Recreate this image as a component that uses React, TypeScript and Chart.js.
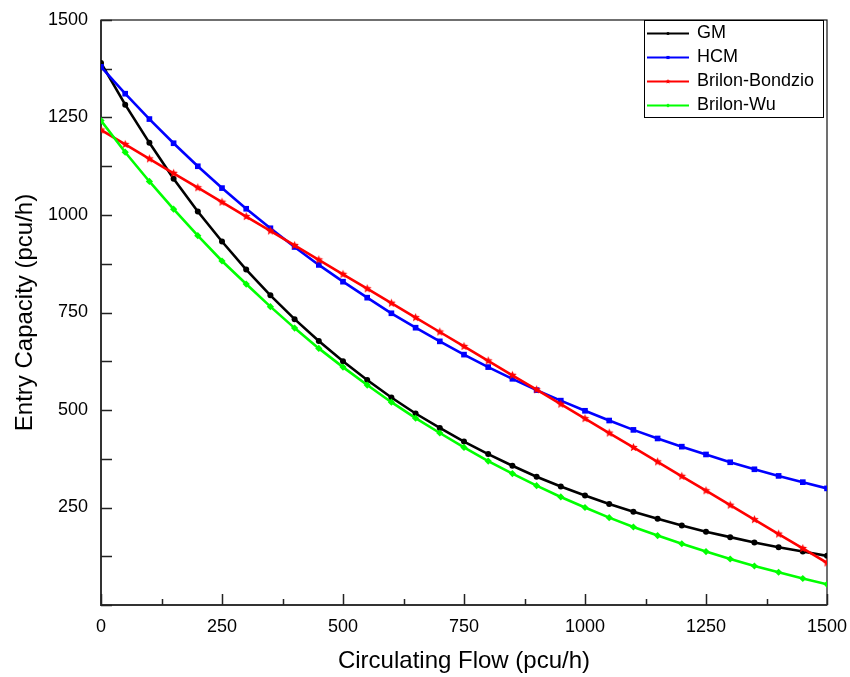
import React, { useEffect, useRef } from 'react';
import { Chart, registerables } from 'chart.js';

Chart.register(...registerables);

const circulatingFlow = [0, 50, 100, 150, 200, 250, 300, 350, 400, 450, 500, 550, 600, 650, 700, 750, 800, 850, 900, 950, 1000, 1050, 1100, 1150, 1200, 1250, 1300, 1350, 1400, 1450, 1500];

const gmCapacity = [1390, 1283, 1185, 1093, 1009, 932, 860, 794, 733, 677, 625, 577, 532, 491, 454, 419, 387, 357, 329, 304, 281, 259, 239, 221, 204, 188, 174, 160, 148, 137, 126];
const hcmCapacity = [1380, 1311, 1246, 1184, 1125, 1069, 1016, 966, 918, 872, 829, 788, 748, 711, 676, 642, 610, 580, 551, 524, 498, 473, 449, 427, 406, 386, 366, 348, 331, 315, 299];
const brilonBondzioCapacity = [1218, 1181, 1144, 1107, 1070, 1033, 996, 959, 922, 885, 848, 811, 774, 737, 700, 663, 626, 589, 552, 515, 478, 441, 404, 367, 330, 293, 256, 219, 182, 145, 108];
const brilonWuCapacity = [1242, 1161, 1086, 1015, 947, 882, 823, 765, 710, 658, 610, 564, 520, 479, 441, 404, 369, 337, 306, 277, 250, 224, 200, 178, 157, 137, 118, 100, 84, 68, 53];

const seriesLabels = ['GM', 'HCM', 'Brilon-Bondzio', 'Brilon-Wu'];
const seriesColors = ['#000000', '#0000ff', '#ff0000', '#00ff00'];
const seriesMarkers = ['circle', 'rect', 'star', 'diamond'];

const xMajorTicks = [0, 250, 500, 750, 1000, 1250, 1500];
const xMinorTicks = [125, 375, 625, 875, 1125, 1375];
const yAllTicks = [0, 125, 250, 375, 500, 625, 750, 875, 1000, 1125, 1250, 1375, 1500];

const xTitle = 'Circulating Flow (pcu/h)';
const yTitle = 'Entry Capacity (pcu/h)';

const FONT = "'Liberation Sans', Arial, Helvetica, sans-serif";

function makeStar(color: string, r: number): HTMLCanvasElement {
  const size = Math.ceil(r * 2) + 2;
  const c = document.createElement('canvas');
  c.width = size;
  c.height = size;
  const ctx = c.getContext('2d')!;
  ctx.fillStyle = color;
  ctx.beginPath();
  for (let i = 0; i < 10; i++) {
    const ang = -Math.PI / 2 + (i * Math.PI) / 5;
    const rr = i % 2 === 0 ? r : r * 0.45;
    ctx.lineTo(size / 2 + rr * Math.cos(ang), size / 2 + rr * Math.sin(ang));
  }
  ctx.closePath();
  ctx.fill();
  return c;
}

function drawMarker(ctx: CanvasRenderingContext2D, kind: string, color: string, x: number, y: number, s: number) {
  ctx.save();
  ctx.fillStyle = color;
  ctx.beginPath();
  if (kind === 'circle') {
    ctx.arc(x, y, s * 0.6, 0, Math.PI * 2);
  } else if (kind === 'rect') {
    ctx.rect(x - s * 0.6, y - s * 0.6, s * 1.2, s * 1.2);
  } else if (kind === 'star') {
    for (let i = 0; i < 10; i++) {
      const ang = -Math.PI / 2 + (i * Math.PI) / 5;
      const rr = i % 2 === 0 ? s : s * 0.45;
      ctx.lineTo(x + rr * Math.cos(ang), y + rr * Math.sin(ang));
    }
    ctx.closePath();
  } else {
    ctx.moveTo(x, y - s * 0.8);
    ctx.lineTo(x + s * 0.8, y);
    ctx.lineTo(x, y + s * 0.8);
    ctx.lineTo(x - s * 0.8, y);
    ctx.closePath();
  }
  ctx.fill();
  ctx.restore();
}

export default function App() {
  const canvasRef = useRef<HTMLCanvasElement | null>(null);

  useEffect(() => {
    if (!canvasRef.current) return;
    const star = makeStar('#ff0000', 4.5);
    const allSeries = [gmCapacity, hcmCapacity, brilonBondzioCapacity, brilonWuCapacity];
    const pointStyles: any[] = ['circle', 'rect', star, 'rectRot'];
    const pointRadii = [3, 4, 4.5, 3.6];

    const datasets = allSeries.map((vals, i) => ({
      label: seriesLabels[i],
      data: circulatingFlow.map((x, j) => ({ x, y: vals[j] })),
      borderColor: seriesColors[i],
      backgroundColor: seriesColors[i],
      borderWidth: 2.6,
      pointStyle: pointStyles[i],
      pointRadius: pointRadii[i],
      pointBorderWidth: 0,
      pointBackgroundColor: seriesColors[i],
      showLine: true,
      tension: 0,
      order: 4 - i,
    }));

    const framePlugin = {
      id: 'frameTicks',
      beforeDatasetsDraw(chart: any) {
        const { ctx, chartArea: a, scales } = chart;
        const xs = scales.x;
        const ys = scales.y;
        ctx.save();
        ctx.strokeStyle = '#111';
        ctx.lineWidth = 1.2;
        ctx.strokeRect(a.left, a.top, a.right - a.left, a.bottom - a.top);
        ctx.strokeStyle = '#333';
        ctx.lineWidth = 2;
        ctx.beginPath();
        ctx.moveTo(a.left, a.top);
        ctx.lineTo(a.left, a.bottom);
        ctx.lineTo(a.right, a.bottom);
        ctx.stroke();
        ctx.lineWidth = 1.5;
        ctx.strokeStyle = '#222';
        ctx.beginPath();
        xMajorTicks.forEach((v) => {
          const px = Math.round(xs.getPixelForValue(v)) + 0.5;
          ctx.moveTo(px, a.bottom);
          ctx.lineTo(px, a.bottom - 11);
        });
        xMinorTicks.forEach((v) => {
          const px = Math.round(xs.getPixelForValue(v)) + 0.5;
          ctx.moveTo(px, a.bottom);
          ctx.lineTo(px, a.bottom - 6);
        });
        yAllTicks.forEach((v) => {
          const py = Math.round(ys.getPixelForValue(v)) + 0.5;
          ctx.moveTo(a.left, py);
          ctx.lineTo(a.left + 11, py);
        });
        ctx.stroke();
        ctx.restore();
      },
      afterDatasetsDraw(chart: any) {
        const { ctx, chartArea: a } = chart;
        const left = a.right - 183;
        const right = a.right - 4;
        const top = a.top;
        const bottom = a.top + 97;
        ctx.save();
        ctx.fillStyle = '#ffffff';
        ctx.fillRect(left, top, right - left, bottom - top);
        ctx.strokeStyle = '#000';
        ctx.lineWidth = 1;
        ctx.strokeRect(left + 0.5, top + 0.5, right - left, bottom - top);
        ctx.font = `18px ${FONT}`;
        ctx.textBaseline = 'middle';
        ctx.textAlign = 'left';
        seriesLabels.forEach((label, i) => {
          const y = top + 13.5 + i * 24;
          ctx.strokeStyle = seriesColors[i];
          ctx.lineWidth = 2;
          ctx.beginPath();
          ctx.moveTo(left + 3, y);
          ctx.lineTo(left + 45, y);
          ctx.stroke();
          drawMarker(ctx, seriesMarkers[i], seriesColors[i], left + 24, y, 2.6);
          ctx.fillStyle = '#000';
          ctx.fillText(label, left + 53, y);
        });
        ctx.restore();
      },
    };

    const chart = new Chart(canvasRef.current, {
      type: 'scatter',
      data: { datasets: datasets as any },
      options: {
        animation: false,
        responsive: false,
        maintainAspectRatio: false,
        layout: { padding: { left: 0, right: 23, top: 20, bottom: 0 } },
        plugins: {
          legend: { display: false },
          tooltip: { enabled: false },
        },
        scales: {
          x: {
            type: 'linear',
            min: 0,
            max: 1500,
            grid: { display: false, drawTicks: false },
            border: { display: false },
            ticks: {
              stepSize: 250,
              color: '#000',
              padding: 11,
              font: { family: FONT, size: 18 },
              callback: (v: any) => String(v),
            },
            title: {
              display: true,
              text: xTitle,
              color: '#000',
              font: { family: FONT, size: 24 },
              padding: { top: 0, bottom: 1 },
            },
            afterFit: (scale: any) => {
              scale.height = 72;
              scale.paddingLeft = 0;
              scale.paddingRight = 0;
            },
          },
          y: {
            type: 'linear',
            min: 0,
            max: 1500,
            grid: { display: false, drawTicks: false },
            border: { display: false },
            ticks: {
              stepSize: 250,
              color: '#000',
              padding: 13,
              font: { family: FONT, size: 18 },
              callback: (v: any) => (v === 0 ? '' : String(v)),
            },
            title: {
              display: true,
              text: yTitle,
              color: '#000',
              font: { family: FONT, size: 24 },
              padding: { top: 10.5, bottom: 0 },
            },
            afterFit: (scale: any) => {
              scale.width = 101;
              scale.paddingTop = 0;
              scale.paddingBottom = 0;
            },
          },
        },
      },
      plugins: [framePlugin],
    });

    return () => {
      chart.destroy();
    };
  }, []);

  return (
    <div style={{ position: 'absolute', left: 0, top: 0, width: 850, height: 677, background: '#fff' }}>
      <canvas ref={canvasRef} width={850} height={677} style={{ display: 'block', width: 850, height: 677 }} />
    </div>
  );
}
